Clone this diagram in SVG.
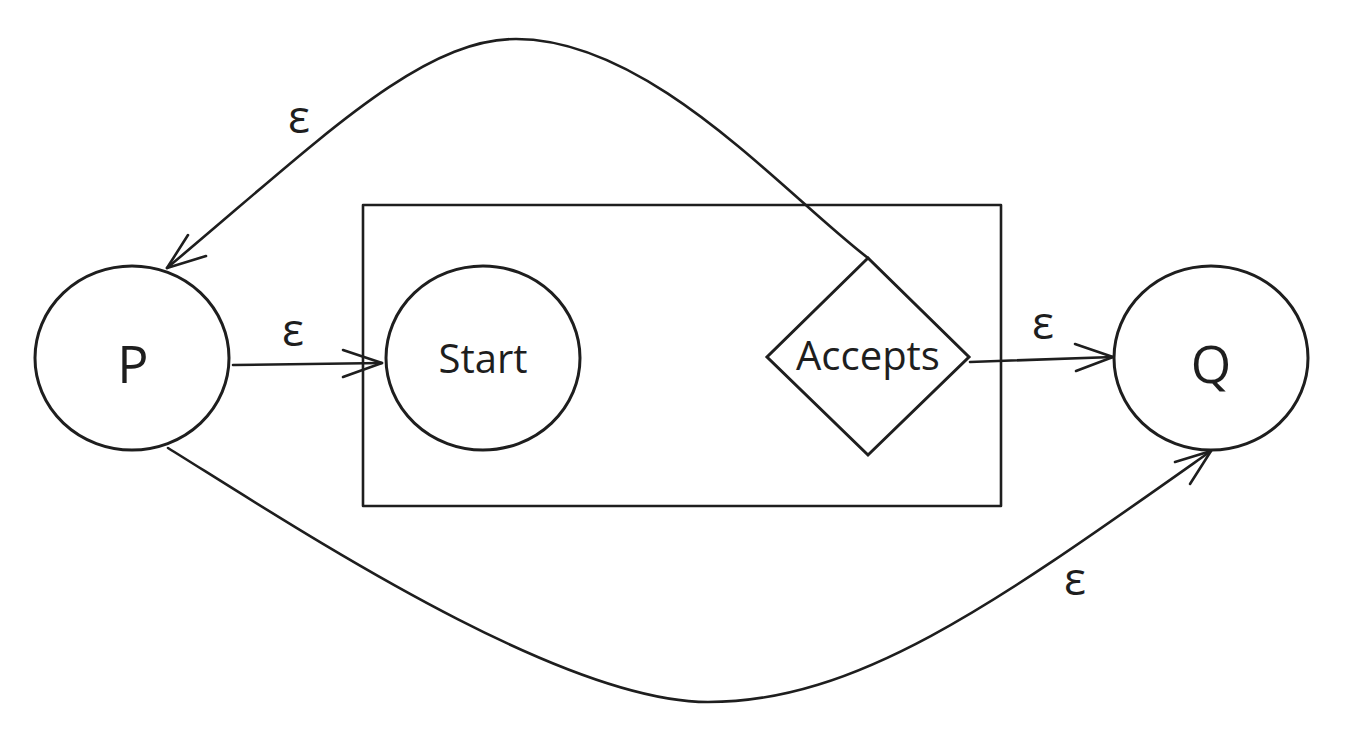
<svg xmlns="http://www.w3.org/2000/svg" width="1347" height="736" viewBox="0 0 1347 736">
<style>
.s{fill:none;stroke:#1e1e1e;stroke-width:2.6;stroke-linecap:round;stroke-linejoin:round}
.n{fill:#ffffff;stroke:#1e1e1e;stroke-width:3}
.t{font-family:"Open Sans","Noto Sans",sans-serif;fill:#1e1e1e;text-anchor:middle;dominant-baseline:central}
.big{font-size:52px}
.mid{font-size:40px}
.eps{font-size:46px}
</style>
<rect width="1347" height="736" fill="#ffffff"/>
<g id="box">
<rect x="363" y="205" width="638" height="301" class="s"/>
</g>
<g id="connectors">
<path class="s" d="M233,365 L382,363"/>
<path class="s" d="M343,350 L382,363 L343,377"/>
<path class="s" d="M970,362 L1113,357"/>
<path class="s" d="M1075,344 L1113,357 L1076,371"/>
<path class="s" d="M868,258 C782,192 650,39 516,39 C420,39 320,140 167,268"/>
<path class="s" d="M188,235 L167,268 L206,256"/>
<path class="s" d="M168,448 C300,530 560,702 708,702 C860,702 1000,600 1211,451"/>
<path class="s" d="M1175,462 L1211,451 L1190,484"/>
</g>
<g id="P">
<ellipse cx="132" cy="358" rx="97" ry="92" class="n"/>
<text x="133" y="362" class="t big">P</text>
</g>
<g id="Start">
<ellipse cx="483" cy="358" rx="97" ry="92" class="n"/>
<text x="483" y="357" class="t mid">Start</text>
</g>
<g id="Accepts">
<polygon points="868,258 969,357 868,455 767,357" class="n"/>
<text x="868" y="354" class="t mid">Accepts</text>
</g>
<g id="Q">
<ellipse cx="1211" cy="358" rx="97" ry="92" class="n"/>
<text x="1211" y="362" class="t big">Q</text>
</g>
<g id="labels">
<text x="293" y="328" class="t eps">ε</text>
<text x="1043" y="321" class="t eps">ε</text>
<text x="299" y="115" class="t eps">ε</text>
<text x="1075" y="577" class="t eps">ε</text>
</g>
</svg>
